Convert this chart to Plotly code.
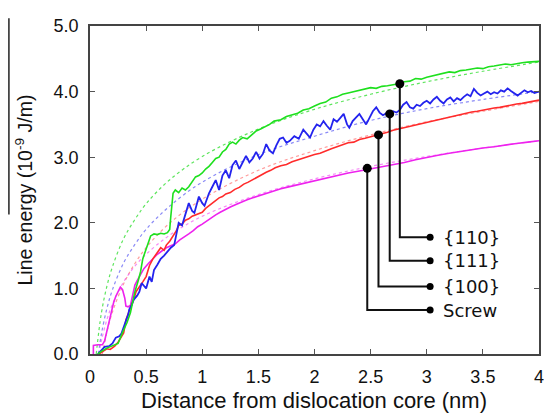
import plotly.graph_objects as go

# ---------------- data ----------------
green_x = [0.07, 0.10, 0.15, 0.20, 0.25, 0.29, 0.33, 0.36, 0.40, 0.43, 0.45, 0.47, 0.50, 0.54, 0.57, 0.60, 0.63, 0.66, 0.69, 0.71,
           0.72, 0.73, 0.74, 0.76, 0.79, 0.82, 0.85, 0.88, 0.91, 0.94, 0.97, 1.00, 1.03, 1.06, 1.09, 1.12, 1.15, 1.18, 1.21, 1.24,
           1.27, 1.30, 1.33, 1.36, 1.40, 1.44, 1.48, 1.52, 1.56, 1.60, 1.64, 1.70, 1.75, 1.80, 1.85, 1.90, 1.95, 2.00, 2.05, 2.10,
           2.15, 2.20, 2.25, 2.30, 2.35, 2.40, 2.45, 2.50, 2.55, 2.60, 2.65, 2.70, 2.75, 2.80, 2.85, 2.90, 2.95, 3.00, 3.05, 3.10,
           3.15, 3.20, 3.25, 3.30, 3.35, 3.40, 3.45, 3.50, 3.55, 3.60, 3.65, 3.70, 3.75, 3.80, 3.85, 3.90, 3.95, 4.00]
green_y = [0.00, 0.04, 0.09, 0.12, 0.16, 0.33, 0.48, 0.63, 0.95, 1.12, 1.25, 1.45, 1.60, 1.80, 1.83, 1.82, 1.84, 1.83, 1.85, 1.90,
           2.10, 2.30, 2.45, 2.50, 2.46, 2.53, 2.50, 2.55, 2.62, 2.70, 2.72, 2.76, 2.82, 2.86, 2.92, 2.98, 3.00, 3.08, 3.12, 3.20,
           3.23, 3.20, 3.26, 3.30, 3.28, 3.34, 3.40, 3.43, 3.46, 3.50, 3.55, 3.57, 3.62, 3.64, 3.67, 3.72, 3.74, 3.78, 3.82, 3.84,
           3.90, 3.92, 3.96, 3.98, 4.00, 4.02, 4.03, 4.06, 4.05, 4.08, 4.09, 4.10, 4.12, 4.15, 4.16, 4.20, 4.19, 4.22, 4.24, 4.26,
           4.27, 4.30, 4.29, 4.32, 4.33, 4.34, 4.36, 4.35, 4.38, 4.39, 4.40, 4.42, 4.41, 4.43, 4.44, 4.45, 4.45, 4.46]

blue_x = [0.07, 0.10, 0.13, 0.17, 0.20, 0.23, 0.26, 0.28, 0.30, 0.32, 0.34, 0.35, 0.37, 0.39, 0.42, 0.44, 0.46, 0.48, 0.50, 0.51,
          0.53, 0.55, 0.57, 0.60, 0.63, 0.66, 0.69, 0.72, 0.75, 0.77, 0.79, 0.82, 0.85, 0.88, 0.91, 0.93, 0.97, 1.00, 1.02, 1.06,
          1.09, 1.12, 1.15, 1.18, 1.21, 1.24, 1.27, 1.30, 1.33, 1.36, 1.39, 1.42, 1.45, 1.48, 1.51, 1.54, 1.57, 1.60, 1.63, 1.66,
          1.69, 1.72, 1.75, 1.78, 1.82, 1.86, 1.90, 1.93, 1.96, 1.99, 2.02, 2.05, 2.08, 2.11, 2.14, 2.17, 2.20, 2.23, 2.26, 2.29,
          2.31, 2.34, 2.37, 2.40, 2.43, 2.46, 2.49, 2.52, 2.55, 2.58, 2.61, 2.64, 2.67, 2.70, 2.73, 2.76, 2.79, 2.82, 2.85, 2.88,
          2.91, 2.94, 2.97, 3.00, 3.03, 3.06, 3.09, 3.12, 3.15, 3.18, 3.21, 3.24, 3.27, 3.30, 3.33, 3.36, 3.39, 3.42, 3.45, 3.48,
          3.51, 3.54, 3.57, 3.60, 3.63, 3.66, 3.69, 3.72, 3.75, 3.78, 3.81, 3.84, 3.87, 3.90, 3.93, 3.96, 4.00]
blue_y = [0.00, 0.06, 0.11, 0.12, 0.16, 0.25, 0.27, 0.31, 0.40, 0.48, 0.60, 0.68, 0.74, 0.83, 0.89, 0.95, 1.08, 1.04, 1.00, 1.06,
          1.18, 1.10, 1.28, 1.36, 1.45, 1.50, 1.56, 1.62, 1.66, 1.85, 2.00, 1.96, 2.15, 2.30, 2.18, 2.15, 2.40, 2.30, 2.26, 2.45,
          2.55, 2.65, 2.50, 2.72, 2.80, 2.68, 2.88, 2.95, 2.82, 2.92, 3.02, 2.92, 2.98, 3.08, 2.98, 3.05, 3.20, 3.10, 3.06, 3.18,
          3.28, 3.30, 3.22, 3.25, 3.32, 3.28, 3.42, 3.36, 3.30, 3.42, 3.50, 3.47, 3.55, 3.48, 3.42, 3.58, 3.54, 3.60, 3.66, 3.50,
          3.45, 3.55, 3.60, 3.66, 3.58, 3.50, 3.60, 3.70, 3.76, 3.68, 3.64, 3.67, 3.66, 3.70, 3.68, 3.72, 3.80, 3.84, 3.76, 3.74,
          3.80, 3.78, 3.83, 3.86, 3.82, 3.88, 3.92, 3.86, 3.82, 3.88, 3.91, 3.85, 3.90, 3.87, 3.92, 3.96, 3.93, 4.04, 3.98, 3.94,
          3.97, 4.00, 3.96, 3.99, 3.97, 4.02, 4.00, 4.05, 4.01, 3.97, 3.94, 3.98, 4.02, 3.99, 4.01, 3.98, 4.00]

red_x = [0.08, 0.12, 0.15, 0.18, 0.22, 0.25, 0.28, 0.30, 0.32, 0.34, 0.35, 0.37, 0.39, 0.41, 0.43, 0.45, 0.47, 0.50, 0.53, 0.56,
         0.60, 0.63, 0.66, 0.68, 0.71, 0.74, 0.77, 0.79, 0.82, 0.85, 0.88, 0.91, 0.94, 0.97, 1.00, 1.03, 1.06, 1.09, 1.12, 1.15,
         1.18, 1.21, 1.25, 1.29, 1.33, 1.37, 1.41, 1.45, 1.49, 1.53, 1.57, 1.61, 1.65, 1.70, 1.75, 1.80, 1.85, 1.90, 1.95, 2.00,
         2.05, 2.10, 2.15, 2.20, 2.25, 2.30, 2.35, 2.40, 2.45, 2.50, 2.55, 2.60, 2.65, 2.70, 2.75, 2.80, 2.85, 2.90, 2.95, 3.00,
         3.05, 3.10, 3.15, 3.20, 3.25, 3.30, 3.35, 3.40, 3.45, 3.50, 3.55, 3.60, 3.65, 3.70, 3.75, 3.80, 3.85, 3.90, 3.95, 4.00]
red_y = [0.00, 0.05, 0.08, 0.07, 0.12, 0.18, 0.26, 0.32, 0.52, 0.62, 0.68, 0.75, 0.83, 0.95, 1.00, 1.06, 1.10, 1.18, 1.35, 1.45,
         1.55, 1.62, 1.58, 1.66, 1.72, 1.80, 1.88, 1.96, 1.98, 2.04, 2.06, 2.10, 2.12, 2.15, 2.16, 2.22, 2.26, 2.30, 2.34, 2.38,
         2.40, 2.44, 2.46, 2.51, 2.54, 2.59, 2.62, 2.66, 2.69, 2.73, 2.77, 2.80, 2.84, 2.87, 2.89, 2.93, 2.96, 2.98, 3.01, 3.04,
         3.06, 3.10, 3.13, 3.16, 3.19, 3.22, 3.23, 3.27, 3.29, 3.31, 3.34, 3.36, 3.38, 3.41, 3.43, 3.45, 3.48, 3.50, 3.52, 3.54,
         3.56, 3.58, 3.60, 3.62, 3.64, 3.65, 3.67, 3.69, 3.70, 3.72, 3.74, 3.75, 3.76, 3.78, 3.79, 3.81, 3.82, 3.84, 3.85, 3.87]

magenta_x = [0.03, 0.03, 0.07, 0.11, 0.13, 0.15, 0.17, 0.19, 0.21, 0.23, 0.25, 0.27, 0.29, 0.31, 0.32, 0.34, 0.36, 0.38, 0.40, 0.42,
             0.45, 0.48, 0.52, 0.56, 0.60, 0.64, 0.68, 0.72, 0.76, 0.80, 0.84, 0.88, 0.92, 0.96, 1.00, 1.04, 1.08, 1.12, 1.16, 1.20,
             1.25, 1.30, 1.35, 1.40, 1.45, 1.50, 1.55, 1.60, 1.65, 1.70, 1.75, 1.80, 1.85, 1.90, 1.95, 2.00, 2.10, 2.20, 2.30, 2.40,
             2.50, 2.60, 2.70, 2.80, 2.90, 3.00, 3.10, 3.20, 3.30, 3.40, 3.50, 3.60, 3.70, 3.80, 3.90, 4.00]
magenta_y = [0.00, 0.13, 0.14, 0.14, 0.20, 0.35, 0.50, 0.66, 0.78, 0.88, 0.95, 1.02, 0.98, 0.85, 0.73, 0.72, 0.74, 0.90, 1.05, 1.12,
             1.20, 1.30, 1.38, 1.45, 1.52, 1.57, 1.62, 1.65, 1.68, 1.74, 1.78, 1.83, 1.88, 1.94, 1.98, 2.03, 2.08, 2.12, 2.16, 2.20,
             2.24, 2.28, 2.32, 2.35, 2.38, 2.41, 2.44, 2.47, 2.49, 2.52, 2.54, 2.56, 2.59, 2.61, 2.63, 2.65, 2.69, 2.72, 2.76, 2.79,
             2.82, 2.85, 2.89, 2.92, 2.96, 3.00, 3.03, 3.06, 3.09, 3.11, 3.14, 3.16, 3.19, 3.21, 3.23, 3.25]

# fitted (dotted) curves
fit_x_green = [0.0555, 0.10, 0.15, 0.20, 0.30, 0.40, 0.50, 0.70, 1.00, 1.50, 2.00, 2.50, 3.00, 3.50, 4.00]
fit_y_green = [0.00, 0.61, 1.03, 1.33, 1.76, 2.05, 2.29, 2.64, 3.01, 3.43, 3.73, 3.96, 4.15, 4.31, 4.45]
fit_x_blue = [0.075, 0.10, 0.15, 0.20, 0.30, 0.40, 0.50, 0.70, 1.00, 1.50, 2.00, 2.50, 3.00, 3.50, 4.00]
fit_y_blue = [0.00, 0.29, 0.69, 0.98, 1.39, 1.67, 1.90, 2.24, 2.62, 3.04, 3.32, 3.56, 3.74, 3.88, 4.00]
fit_x_red = [0.11, 0.15, 0.20, 0.30, 0.40, 0.50, 0.70, 1.00, 1.50, 2.00, 2.50, 3.00, 3.50, 4.00]
fit_y_red = [0.00, 0.33, 0.64, 1.07, 1.38, 1.62, 1.98, 2.36, 2.80, 3.10, 3.34, 3.54, 3.70, 3.85]
fit_x_magenta = [0.08, 0.10, 0.15, 0.20, 0.30, 0.40, 0.50, 0.70, 1.00, 1.50, 2.00, 2.50, 3.00, 3.50, 4.00]
fit_y_magenta = [0.00, 0.19, 0.52, 0.76, 1.10, 1.34, 1.52, 1.80, 2.10, 2.43, 2.67, 2.86, 3.01, 3.14, 3.25]

# callout labels
label_names = ["{110}", "{111}", "{100}", "Screw"]
label_dot_x = [2.76, 2.67, 2.57, 2.47]
label_dot_y = [4.12, 3.66, 3.34, 2.83]
label_y = [1.78, 1.42, 1.03, 0.67]
label_x = 3.03

x_tickvals = [0, 0.5, 1, 1.5, 2, 2.5, 3, 3.5, 4]
x_ticktext = ["0", "0.5", "1", "1.5", "2", "2.5", "3", "3.5", "4"]
y_tickvals = [0, 1, 2, 3, 4, 5]
y_ticktext = ["0.0", "1.0", "2.0", "3.0", "4.0", "5.0"]

# ---------------- figure ----------------
fig = go.Figure()

fits = [
    (fit_x_green, fit_y_green, "rgba(40,220,40,0.75)"),
    (fit_x_blue, fit_y_blue, "rgba(60,60,240,0.6)"),
    (fit_x_red, fit_y_red, "rgba(255,90,90,0.6)"),
    (fit_x_magenta, fit_y_magenta, "rgba(240,60,240,0.6)"),
]
for fx, fy, c in fits:
    fig.add_trace(go.Scatter(x=fx, y=fy, mode="lines", line=dict(color=c, width=1.2, dash="dot", shape="spline"),
                             hoverinfo="skip", showlegend=False))

solids = [
    (magenta_x, magenta_y, "#ee22ee", 1.6),
    (red_x, red_y, "#ff2b2b", 1.6),
    (blue_x, blue_y, "#2323ee", 1.8),
    (green_x, green_y, "#1ee01e", 1.6),
]
for sx, sy, c, w in solids:
    fig.add_trace(go.Scatter(x=sx, y=sy, mode="lines", line=dict(color=c, width=w),
                             hoverinfo="skip", showlegend=False))

# callout connectors
for dx, dy, ly in zip(label_dot_x, label_dot_y, label_y):
    fig.add_trace(go.Scatter(x=[dx, dx, label_x], y=[dy, ly, ly], mode="lines",
                             line=dict(color="#111111", width=2), hoverinfo="skip", showlegend=False))
fig.add_trace(go.Scatter(x=label_dot_x, y=label_dot_y, mode="markers",
                         marker=dict(color="#000000", size=9), hoverinfo="skip", showlegend=False))
fig.add_trace(go.Scatter(x=[label_x] * len(label_y), y=label_y, mode="markers",
                         marker=dict(color="#000000", size=7), hoverinfo="skip", showlegend=False))

annotations = []
for name, ly in zip(label_names, label_y):
    annotations.append(dict(x=label_x, y=ly, xref="x", yref="y", text=name, showarrow=False,
                            xanchor="left", yanchor="middle", xshift=11,
                            font=dict(family="DejaVu Sans", size=18, color="#111111")))

annotations.append(dict(x=0.498, y=-0.141, xref="paper", yref="paper",
                        text="Distance from dislocation core (nm)", showarrow=False,
                        xanchor="center", yanchor="middle",
                        font=dict(family="Liberation Sans", size=22, color="#111111")))
annotations.append(dict(x=-0.148, y=0.50, xref="paper", yref="paper",
                        text="Line energy (10<sup>-9</sup> J/m)", showarrow=False, textangle=-90,
                        xanchor="center", yanchor="middle",
                        font=dict(family="Liberation Sans", size=19.5, color="#111111")))

axis_common = dict(showline=True, mirror="allticks", linecolor="#444444", linewidth=1.5,
                   ticks="inside", ticklen=5, tickwidth=1.2, tickcolor="#555555",
                   showgrid=False, zeroline=False,
                   tickfont=dict(family="Liberation Sans", size=18, color="#111111"))

# the page body adds an 8px offset, so the figure is sized/margined to compensate
fig.update_layout(
    width=544, height=406,
    margin=dict(l=82, r=8, t=12, b=60),
    paper_bgcolor="white", plot_bgcolor="white",
    xaxis=dict(range=[0, 4], tickvals=x_tickvals, ticktext=x_ticktext, ticklabelstandoff=6, **axis_common),
    yaxis=dict(range=[0, 5], tickvals=y_tickvals, ticktext=y_ticktext, ticklabelstandoff=6, **axis_common),
    annotations=annotations,
    shapes=[dict(type="line", xref="paper", yref="paper", x0=-0.1806, x1=-0.1806, y0=0.425, y1=1.024,
                 line=dict(color="#222222", width=1.5))],
    showlegend=False,
)

fig.write_html("out.html")
